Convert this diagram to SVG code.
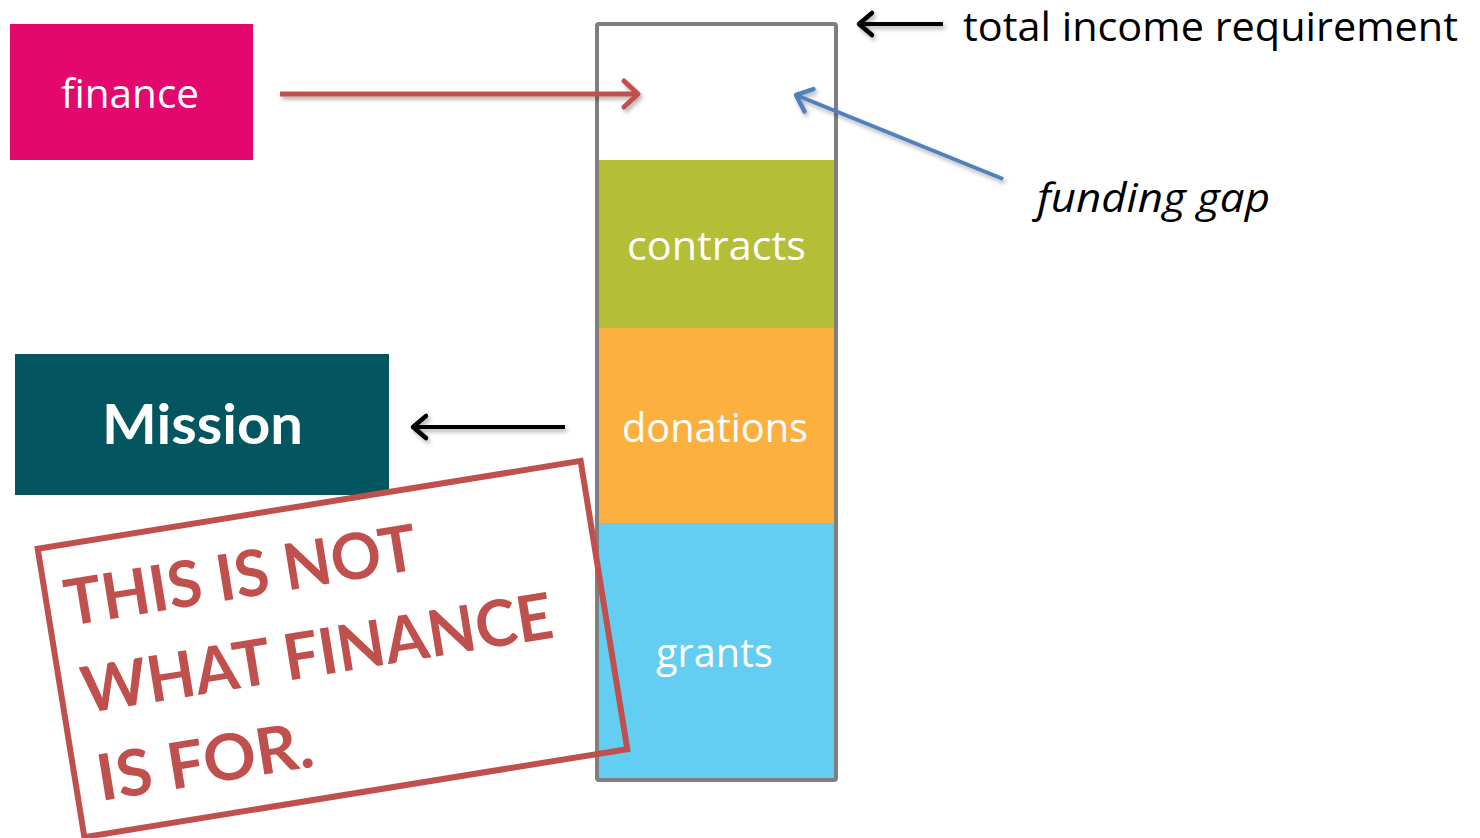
<svg xmlns="http://www.w3.org/2000/svg" width="1480" height="838" viewBox="0 0 1480 838">
  <style>
    .lbl { font-family: "Open Sans", "Liberation Sans", sans-serif; font-size: 41px; fill: #ffffff; text-anchor: middle; }
    .blk { font-family: "Open Sans", "Liberation Sans", sans-serif; font-size: 41px; fill: #000000; }
    .mis { font-family: Lato, "Open Sans", "Liberation Sans", sans-serif; font-weight: bold; font-size: 56px; fill: #ffffff; text-anchor: middle; }
    .stamp { font-family: Lato, "Open Sans", "Liberation Sans", sans-serif; font-weight: bold; font-size: 64px; fill: #C0504D; }
    .conn { fill: none; stroke-linecap: butt; }
  </style>
  <defs>
    <filter id="sh" x="-20%" y="-50%" width="140%" height="200%">
      <feDropShadow dx="2" dy="3" stdDeviation="2" flood-color="#000" flood-opacity="0.3"/>
    </filter>
    <marker id="hRed" markerUnits="userSpaceOnUse" viewBox="-20 -18 26 36" refX="0" refY="0" markerWidth="26" markerHeight="36" orient="auto" overflow="visible">
      <path d="M-14,-13 L0,0 L-14,13" fill="none" stroke="#C0504D" stroke-width="5" stroke-linecap="round" stroke-linejoin="round"/>
    </marker>
    <marker id="hBlk" markerUnits="userSpaceOnUse" viewBox="-20 -18 26 36" refX="0" refY="0" markerWidth="26" markerHeight="36" orient="auto" overflow="visible">
      <path d="M-13,-11 L0,0 L-13,11" fill="none" stroke="#000000" stroke-width="4.5" stroke-linecap="round" stroke-linejoin="round"/>
    </marker>
    <marker id="hBlu" markerUnits="userSpaceOnUse" viewBox="-20 -18 26 36" refX="0" refY="0" markerWidth="26" markerHeight="36" orient="auto" overflow="visible">
      <path d="M-14,-12 L0,0 L-14,12" fill="none" stroke="#4F81BD" stroke-width="4.5" stroke-linecap="round" stroke-linejoin="round"/>
    </marker>
  </defs>

  <rect width="1480" height="838" fill="#ffffff"/>

  <g id="finance">
    <rect x="10" y="24" width="243" height="136" fill="#E4076E"/>
    <text class="lbl" x="130" y="108" textLength="138" lengthAdjust="spacingAndGlyphs">finance</text>
  </g>

  <g id="income-bar">
    <rect x="597" y="24" width="239" height="136" fill="#ffffff"/>
    <g id="contracts">
      <rect x="597" y="160" width="239" height="168" fill="#B5BE37"/>
      <text class="lbl" x="716.5" y="260" textLength="179" lengthAdjust="spacingAndGlyphs">contracts</text>
    </g>
    <g id="donations">
      <rect x="597" y="328" width="239" height="195" fill="#FBB040"/>
      <text class="lbl" x="715" y="442" textLength="186" lengthAdjust="spacingAndGlyphs">donations</text>
    </g>
    <g id="grants">
      <rect x="597" y="523" width="239" height="257" fill="#63CDF2"/>
      <text class="lbl" x="714.5" y="667" textLength="117" lengthAdjust="spacingAndGlyphs">grants</text>
    </g>
    <rect x="597" y="24" width="239" height="756" rx="2" fill="none" stroke="#7F7F7F" stroke-width="4"/>
  </g>

  <g id="total-income-label">
    <text class="blk" x="963" y="41" textLength="495" lengthAdjust="spacingAndGlyphs">total income requirement</text>
  </g>

  <g id="funding-gap-label">
    <text class="blk" x="1037" y="212" font-style="italic" textLength="233" lengthAdjust="spacingAndGlyphs">funding  gap</text>
  </g>

  <g id="mission">
    <rect x="15" y="354" width="374" height="141" fill="#03565F"/>
    <text class="mis" x="202.5" y="444" textLength="201" lengthAdjust="spacingAndGlyphs">Mission</text>
  </g>

  <g id="connectors" filter="url(#sh)">
    <line class="conn" x1="280" y1="94" x2="638" y2="94" stroke="#C0504D" stroke-width="5" marker-end="url(#hRed)"/>
    <line class="conn" x1="943" y1="24" x2="859" y2="24" stroke="#000000" stroke-width="4" marker-end="url(#hBlk)"/>
    <line class="conn" x1="1003" y1="179" x2="796" y2="95" stroke="#4F81BD" stroke-width="4" marker-end="url(#hBlu)"/>
    <line class="conn" x1="565" y1="427" x2="413" y2="427" stroke="#000000" stroke-width="4" marker-end="url(#hBlk)"/>
  </g>

  <g id="stamp" transform="translate(332.5,649) rotate(-9.2)">
    <rect x="-275" y="-146" width="550" height="292" fill="none" stroke="#C0504D" stroke-width="6"/>
    <text class="stamp" x="-257" y="-65" textLength="356" lengthAdjust="spacingAndGlyphs">THIS IS NOT</text>
    <text class="stamp" x="-254" y="24" textLength="476" lengthAdjust="spacingAndGlyphs">WHAT FINANCE</text>
    <text class="stamp" x="-253" y="113" textLength="218" lengthAdjust="spacingAndGlyphs">IS FOR.</text>
  </g>
</svg>
